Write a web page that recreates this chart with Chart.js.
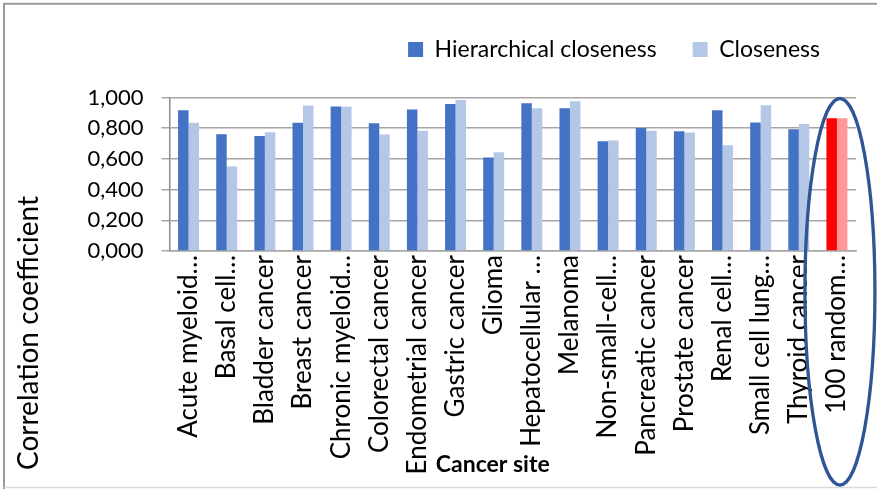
<!DOCTYPE html>
<html>
<head>
<meta charset="utf-8">
<script src="https://cdn.jsdelivr.net/npm/chart.js@4.4.1/dist/chart.umd.min.js"></script>
<style>
  html, body { margin: 0; padding: 0; background: #fff; }
</style>
</head>
<body>
<canvas id="chart" width="877" height="489"></canvas>
<script>
const sites = [
  'Acute myeloid…', 'Basal cell…', 'Bladder cancer', 'Breast cancer',
  'Chronic myeloid…', 'Colorectal cancer', 'Endometrial cancer', 'Gastric cancer',
  'Glioma', 'Hepatocellular …', 'Melanoma', 'Non-small-cell…',
  'Pancreatic cancer', 'Prostate cancer', 'Renal cell…', 'Small cell lung…',
  'Thyroid cancer', '100 random…'
];
const hierarchical = [0.917, 0.761, 0.750, 0.835, 0.941, 0.833, 0.922, 0.957, 0.609,
  0.963, 0.930, 0.715, 0.802, 0.780, 0.917, 0.837, 0.793, 0.865];
const closeness = [0.835, 0.550, 0.774, 0.948, 0.939, 0.759, 0.783, 0.983, 0.643,
  0.930, 0.976, 0.720, 0.783, 0.772, 0.689, 0.950, 0.828, 0.865];
const yTickLabels = ['0,000', '0,200', '0,400', '0,600', '0,800', '1,000'];

// the last category (random baseline) is highlighted in red
const highlight = sites.length - 1;

const FONT = 'Lato, "Open Sans", sans-serif';
Chart.defaults.color = '#000';
Chart.defaults.font.family = FONT;

const extras = {
  id: 'extras',
  beforeLayout(chart) {
    // give the legend some room below it
    const lg = chart.legend;
    if (lg && !lg._padded) {
      const fit = lg.fit;
      lg.fit = function () { fit.call(this); this.height += 26.5; };
      lg._padded = true;
    }
  },
  beforeDraw(chart) {
    const ctx = chart.ctx;
    ctx.save();
    ctx.strokeStyle = '#9a9a9a';
    ctx.lineWidth = 2;
    ctx.beginPath();
    ctx.moveTo(4, chart.height);
    ctx.lineTo(4, 3.75);
    ctx.lineTo(chart.width, 3.75);
    ctx.stroke();
    ctx.strokeStyle = '#d9d9d9';
    ctx.lineWidth = 1.5;
    ctx.beginPath();
    ctx.moveTo(4, chart.height - 1.5);
    ctx.lineTo(chart.width, chart.height - 1.5);
    ctx.stroke();
    ctx.restore();
  },
  afterDraw(chart) {
    const ctx = chart.ctx;
    const xs = chart.scales.x, ys = chart.scales.y;
    const area = chart.chartArea;
    ctx.save();

    // axis titles
    ctx.fillStyle = '#000';
    ctx.textAlign = 'center';
    ctx.textBaseline = 'middle';
    ctx.font = 'bold 23px ' + FONT;
    ctx.fillText('Cancer site', (area.left + area.right) / 2 - 20, chart.height - 24);

    ctx.translate(29, 333);
    ctx.rotate(-Math.PI / 2);
    ctx.font = '28px ' + FONT;
    ctx.fillText('Correlation coefficient', 0, 0);
    ctx.setTransform(1, 0, 0, 1, 0, 0);

    // ellipse round the random baseline
    const cx = xs.getPixelForValue(highlight) + 3;
    const top = ys.getPixelForValue(1) + 1;
    const bottom = chart.height - 4;
    ctx.strokeStyle = '#2F5597';
    ctx.lineWidth = 3.3;
    ctx.beginPath();
    ctx.ellipse(cx, (top + bottom) / 2, 35, (bottom - top) / 2, 0, 0, 2 * Math.PI);
    ctx.stroke();
    ctx.restore();
  }
};

new Chart(document.getElementById('chart'), {
  type: 'bar',
  data: {
    labels: sites,
    datasets: [
      {
        label: 'Hierarchical closeness',
        data: hierarchical,
        backgroundColor: ctx => ctx.dataIndex === highlight ? '#FF0000' : '#4472C4',
      },
      {
        label: 'Closeness',
        data: closeness,
        backgroundColor: ctx => ctx.dataIndex === highlight ? '#FF9999' : '#B4C7E7',
      },
    ],
  },
  options: {
    responsive: false,
    animation: false,
    layout: { padding: { top: 2, left: 80, right: 21, bottom: 8 } },
    datasets: {
      bar: { categoryPercentage: 0.55, barPercentage: 1, borderWidth: 0 },
    },
    plugins: {
      legend: {
        position: 'top',
        align: 'end',
        labels: {
          boxWidth: 15,
          boxHeight: 15,
          padding: 36,
          font: { size: 23 },
        },
      },
      tooltip: { enabled: false },
    },
    scales: {
      x: {
        grid: { display: false, drawTicks: false },
        border: { display: true, color: '#a6a6a6', width: 1.5 },
        ticks: {
          autoSkip: false,
          minRotation: 90,
          maxRotation: 90,
          padding: 4,
          font: { size: 26 },
        },
        afterFit(scale) { scale.height = 230; },
      },
      y: {
        min: 0,
        max: 1,
        grid: { color: '#a6a6a6', lineWidth: 1.5, tickLength: 8 },
        border: { display: true, color: '#8c8c8c', width: 1.5 },
        ticks: {
          stepSize: 0.2,
          padding: 18,
          font: { size: 22 },
          callback: (v, i) => yTickLabels[i],
        },
        afterFit(scale) { scale.width = 89.5; },
      },
    },
  },
  plugins: [extras],
});
</script>
</body>
</html>
